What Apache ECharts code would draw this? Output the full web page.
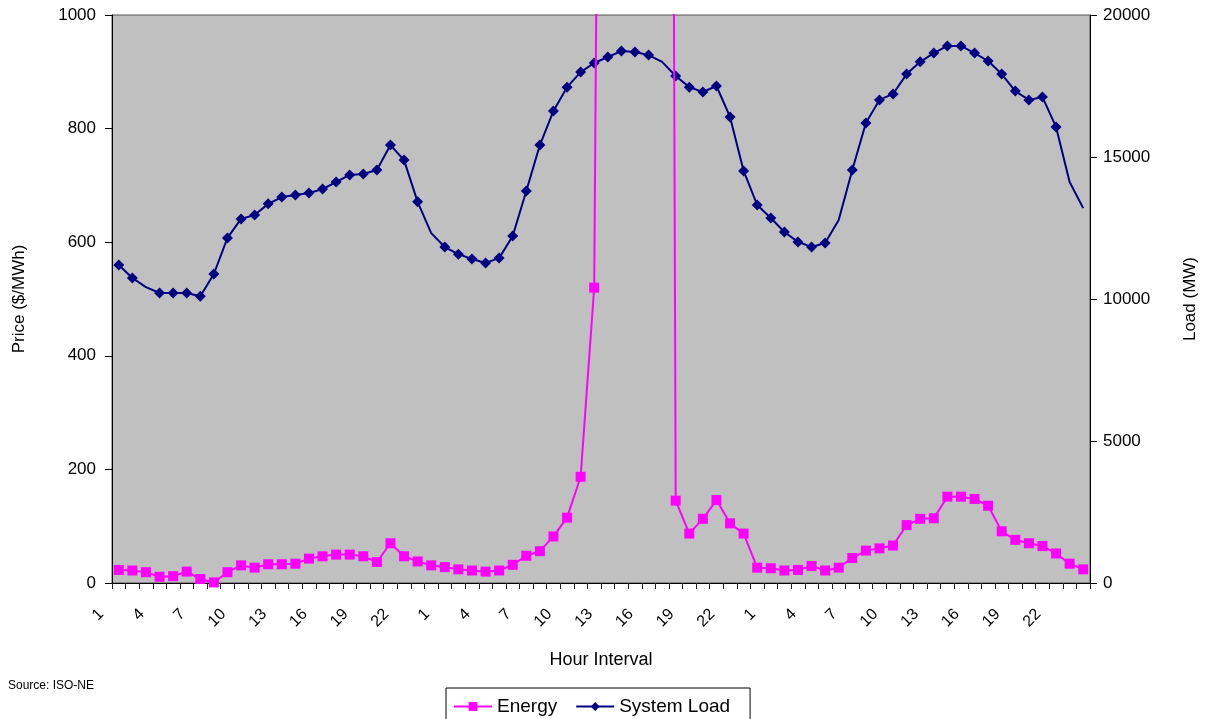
<!DOCTYPE html>
<html>
<head>
<meta charset="utf-8">
<title>Energy Price and System Load</title>
<script src="https://cdn.jsdelivr.net/npm/echarts@6/dist/echarts.min.js"></script>
<style>
  html, body { margin: 0; padding: 0; background: #ffffff; }
  #chart { width: 1207px; height: 719px; }
</style>
</head>
<body>
<div id="chart"></div>
<script>
// Three consecutive days of hourly intervals (hours 1..24 each day)
const dayCount = 3;
const hoursPerDay = 24;
const hourLabels = [];
for (let d = 0; d < dayCount; d++) {
  for (let h = 1; h <= hoursPerDay; h++) hourLabels.push(String(h));
}

// Energy price, $/MWh (the afternoon spike on day 2 runs far above the axis)
const energyDay1 = [23, 22, 19, 11, 12, 20, 7, 1, 19, 31, 27, 33, 33, 34, 43, 47, 50, 50, 47, 37, 70, 47, 38, 31];
const energyDay2 = [28, 24, 22, 20, 22, 32, 48, 56, 82, 115, 187, 520, 3800, 4800, 5800, 6500, 6900, 145, 87, 113, 146, 105, 87, 27];
const energyDay3 = [26, 22, 23, 30, 22, 27, 44, 57, 61, 66, 102, 113, 114, 152, 152, 148, 136, 91, 76, 70, 65, 52, 34, 24];

// System load, MW
const loadDay1 = [11200, 10740, 10420, 10210, 10210, 10210, 10100, 10880, 12150, 12820, 12960, 13350, 13590, 13660, 13730, 13870, 14120, 14370, 14400, 14540, 15420, 14890, 13420, 12320];
const loadDay2 = [11830, 11580, 11410, 11270, 11440, 12220, 13800, 15420, 16620, 17460, 17990, 18310, 18520, 18730, 18700, 18590, 18350, 17850, 17460, 17290, 17500, 16410, 14510, 13310];
const loadDay3 = [12850, 12360, 12010, 11830, 11970, 12780, 14540, 16200, 17010, 17220, 17920, 18350, 18660, 18910, 18910, 18660, 18380, 17920, 17320, 17010, 17110, 16060, 14120, 13200];

const priceTicks = { min: 0, max: 1000, step: 200 };
const loadTicks = { min: 0, max: 20000, step: 5000 };

const energy = energyDay1.concat(energyDay2, energyDay3);
const load = loadDay1.concat(loadDay2, loadDay3);

// points on the load line drawn without a marker
const loadBareIdx = [2, 23, 40, 53, 70, 71];

const FONT = 'Liberation Sans, Arial, sans-serif';
const PINK = '#FF00FF';
const NAVY = '#000080';

const loadData = load.map((v, i) => loadBareIdx.includes(i) ? { value: v, symbol: 'none' } : v);
const plainNumber = v => String(v);

const chart = echarts.init(document.getElementById('chart'), null, { renderer: 'canvas' });

chart.setOption({
  animation: false,
  backgroundColor: '#ffffff',
  textStyle: { fontFamily: FONT, color: '#000' },
  grid: {
    left: 112, right: 117, top: 15, bottom: 136,
    show: true,
    backgroundColor: '#C0C0C0',
    borderColor: '#555555',
    borderWidth: 1
  },
  legend: {
    data: ['Energy', 'System Load'],
    left: 446,
    top: 688,
    orient: 'horizontal',
    borderColor: '#000',
    borderWidth: 1,
    padding: [9, 20, 6, 7],
    itemWidth: 38,
    itemHeight: 11,
    itemGap: 18,
    textStyle: { fontFamily: FONT, fontSize: 19, color: '#000' }
  },
  graphic: [{
    type: 'text',
    left: 8,
    top: 680,
    style: { text: 'Source: ISO-NE', fontFamily: FONT, fontSize: 12, fill: '#000' }
  }],
  xAxis: {
    type: 'category',
    data: hourLabels,
    boundaryGap: true,
    name: 'Hour Interval',
    nameLocation: 'middle',
    nameGap: 68,
    nameTextStyle: { fontFamily: FONT, fontSize: 18, color: '#000' },
    axisLine: { lineStyle: { color: '#000', width: 1 } },
    axisTick: { show: true, interval: 0, length: 6, lineStyle: { color: '#222' } },
    axisLabel: {
      interval: 2,
      rotate: 45,
      margin: 11,
      padding: [0, 25, 0, 0],
      fontFamily: FONT,
      fontSize: 16,
      color: '#000'
    },
    splitLine: { show: false }
  },
  yAxis: [{
    type: 'value',
    position: 'left',
    min: priceTicks.min,
    max: priceTicks.max,
    interval: priceTicks.step,
    name: 'Price ($/MWh)',
    nameLocation: 'middle',
    nameRotate: 90,
    nameGap: 84,
    nameTextStyle: { fontFamily: FONT, fontSize: 17, color: '#000' },
    axisLine: { show: true, lineStyle: { color: '#000', width: 1 } },
    axisTick: { show: true, length: 7, lineStyle: { color: '#000' } },
    axisLabel: { fontFamily: FONT, fontSize: 17, color: '#000', margin: 16, formatter: plainNumber },
    splitLine: { show: false }
  }, {
    type: 'value',
    position: 'right',
    min: loadTicks.min,
    max: loadTicks.max,
    interval: loadTicks.step,
    name: 'Load (MW)',
    nameLocation: 'middle',
    nameRotate: 90,
    nameGap: 92,
    nameTextStyle: { fontFamily: FONT, fontSize: 17, color: '#000' },
    axisLine: { show: true, lineStyle: { color: '#000', width: 1 } },
    axisTick: { show: true, length: 7, lineStyle: { color: '#000' } },
    axisLabel: { fontFamily: FONT, fontSize: 17, color: '#000', margin: 13, formatter: plainNumber },
    splitLine: { show: false }
  }],
  series: [{
    name: 'System Load',
    type: 'line',
    yAxisIndex: 1,
    data: loadData,
    symbol: 'diamond',
    symbolSize: 11,
    showAllSymbol: true,
    lineStyle: { color: NAVY, width: 2 },
    itemStyle: { color: NAVY },
    z: 2
  }, {
    name: 'Energy',
    type: 'line',
    yAxisIndex: 0,
    data: energy,
    symbol: 'rect',
    symbolSize: 10,
    showAllSymbol: true,
    clip: true,
    lineStyle: { color: PINK, width: 2 },
    itemStyle: { color: PINK },
    z: 3
  }]
});
</script>
</body>
</html>
